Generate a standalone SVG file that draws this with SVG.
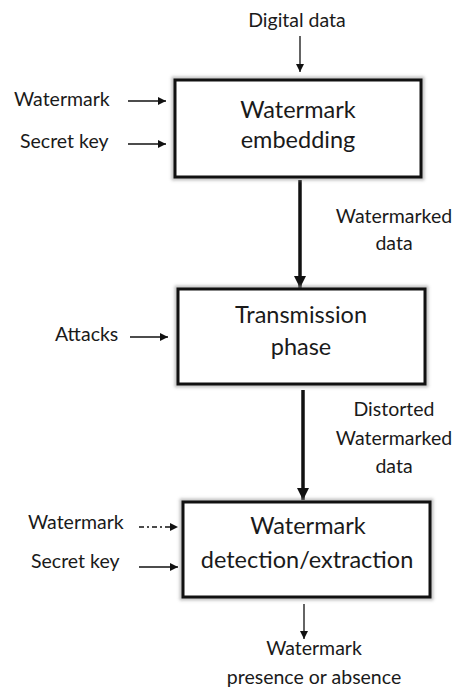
<svg xmlns="http://www.w3.org/2000/svg" width="456" height="691" viewBox="0 0 456 691">
<defs>
<style>
.t{font-family:Lato,"Open Sans","Liberation Sans",sans-serif;fill:#1a1a1a}
.lbl{font-size:19.5px}
.box-t{font-size:23.5px;text-anchor:middle}
.mid{text-anchor:middle}
.box{fill:#fff;stroke:#111;stroke-width:3}
.sh{fill:none;stroke:#9a9a9a;stroke-width:7;opacity:0.6}
.thin{stroke:#111;stroke-width:1.3;fill:none}
.thick{stroke:#111;stroke-width:3.5;fill:none}
</style>
<marker id="ah" viewBox="0 0 10 10" refX="10" refY="5" markerWidth="8" markerHeight="8" markerUnits="userSpaceOnUse" orient="auto"><path d="M0,0 L10,5 L0,10 z" fill="#111"/></marker>
<marker id="ahb" viewBox="0 0 10 10" refX="10" refY="5" markerWidth="12" markerHeight="12" markerUnits="userSpaceOnUse" orient="auto"><path d="M0,0 L10,5 L0,10 z" fill="#111"/></marker>
<filter id="blur" x="-10%" y="-10%" width="120%" height="120%"><feGaussianBlur stdDeviation="1.5"/></filter>
</defs>
<rect width="456" height="691" fill="#fff"/>
<g id="connectors">
<line class="thin" x1="300" y1="36" x2="300" y2="72" marker-end="url(#ah)"/>
<line class="thin" x1="128" y1="101" x2="166" y2="101" marker-end="url(#ah)"/>
<line class="thin" x1="128" y1="144" x2="166" y2="144" marker-end="url(#ah)"/>
<line class="thick" x1="300" y1="180" x2="300" y2="288" marker-end="url(#ahb)"/>
<line class="thin" x1="130" y1="337" x2="168" y2="337" marker-end="url(#ah)"/>
<line class="thick" x1="303" y1="390" x2="303" y2="500" marker-end="url(#ahb)"/>
<line class="thin" x1="139" y1="527" x2="178" y2="527" stroke-dasharray="5,3,2,3" marker-end="url(#ah)"/>
<line class="thin" x1="139" y1="567" x2="178" y2="567" marker-end="url(#ah)"/>
<line class="thin" x1="304" y1="604" x2="304" y2="639" marker-end="url(#ah)"/>
</g>
<g id="digital-data"><text class="t lbl mid" x="297" y="27">Digital data</text></g>
<g id="watermark-in-1"><text class="t lbl" x="14" y="106">Watermark</text></g>
<g id="secret-key-1"><text class="t lbl" x="20" y="148">Secret key</text></g>
<g id="embedding">
<rect class="sh" x="175" y="80" width="246" height="97" filter="url(#blur)"/>
<rect class="box" x="175" y="80" width="246" height="97"/>
<text class="t box-t" x="298" y="118">Watermark</text>
<text class="t box-t" x="298" y="148">embedding</text>
</g>
<g id="watermarked-data"><text class="t lbl mid" x="394" y="223">Watermarked</text><text class="t lbl mid" x="394" y="250">data</text></g>
<g id="attacks"><text class="t lbl" x="55" y="341">Attacks</text></g>
<g id="transmission">
<rect class="sh" x="178" y="289" width="247" height="95" filter="url(#blur)"/>
<rect class="box" x="178" y="289" width="247" height="95"/>
<text class="t box-t" x="301" y="323">Transmission</text>
<text class="t box-t" x="301" y="355">phase</text>
</g>
<g id="distorted-data"><text class="t lbl mid" x="394" y="416">Distorted</text><text class="t lbl mid" x="394" y="445">Watermarked</text><text class="t lbl mid" x="394" y="473">data</text></g>
<g id="watermark-in-2"><text class="t lbl" x="28" y="529">Watermark</text></g>
<g id="secret-key-2"><text class="t lbl" x="31" y="568">Secret key</text></g>
<g id="detection">
<rect class="sh" x="183" y="502" width="247" height="95" filter="url(#blur)"/>
<rect class="box" x="183" y="502" width="247" height="95"/>
<text class="t box-t" x="308" y="534">Watermark</text>
<text class="t box-t" x="307" y="568">detection/extraction</text>
</g>
<g id="result"><text class="t lbl mid" x="314" y="655">Watermark</text><text class="t lbl mid" x="314" y="684">presence or absence</text></g>
</svg>
